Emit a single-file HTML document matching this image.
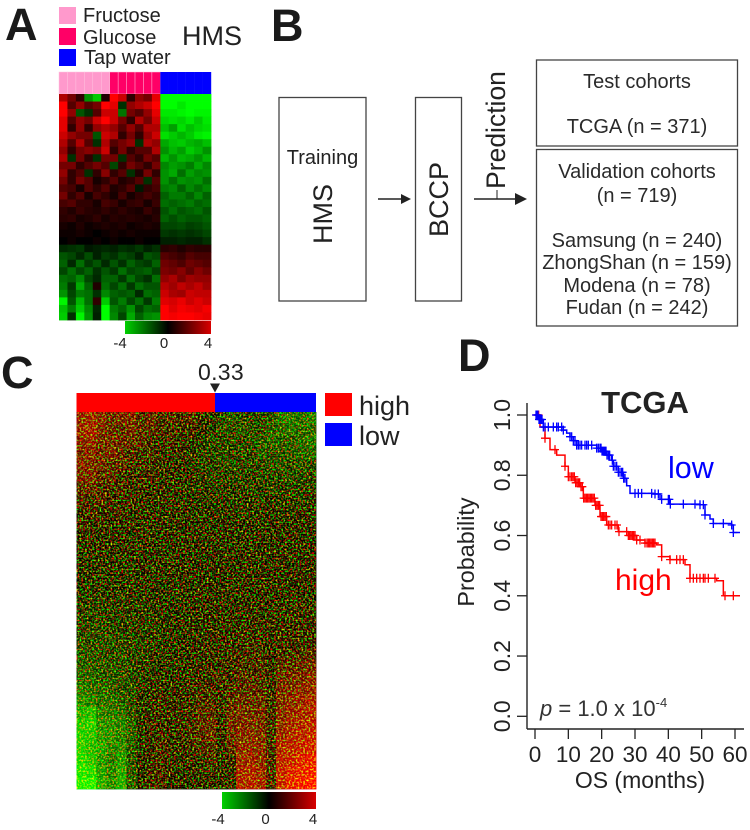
<!DOCTYPE html>
<html lang="en">
<head>
<meta charset="utf-8">
<title>HMS / BCCP figure</title>
<style>
html,body{margin:0;padding:0;background:#fff;width:750px;height:830px;overflow:hidden}
svg{display:block}
text{font-family:"Liberation Sans",sans-serif;fill:#222}
.panel{font-size:45px;font-weight:bold;fill:#1a1a1a}
.co{font-size:20px;text-anchor:middle;fill:#2a2a2a}
.bx{fill:#fff;stroke:#444;stroke-width:1.3}
</style>
</head>
<body>
<svg id="fig" xmlns="http://www.w3.org/2000/svg" width="750" height="830" viewBox="0 0 750 830">
<defs>
<filter id="grain" x="0" y="0" width="100%" height="100%" color-interpolation-filters="sRGB">
<feTurbulence type="fractalNoise" baseFrequency="0.55" numOctaves="1" seed="4"/>
<feColorMatrix type="matrix" values="3.2 0 0 0 -1.45  0 3.2 0 0 -1.45  0 0 0 0 0  0 0 0 0 1"/>
</filter>
<linearGradient id="cbar" x1="0" x2="1" y1="0" y2="0"></linearGradient>
</defs>

<text class="panel" x="5" y="40">A</text>
<text class="panel" x="271" y="41">B</text>
<text class="panel" x="1" y="388">C</text>
<text class="panel" x="458" y="371">D</text>

<g>
<rect x="59" y="7" width="17" height="17" fill="#ff99cc"/>
<rect x="59" y="28" width="17" height="17" fill="#ff0066"/>
<rect x="59" y="49" width="17" height="17" fill="#0000ff"/>
<text x="83" y="22" font-size="20">Fructose</text>
<text x="83" y="44" font-size="20">Glucose</text>
<text x="84" y="64" font-size="20">Tap water</text>
<text x="182" y="45" font-size="27" fill="#333">HMS</text>
</g>
<g id="annotA"></g>
<g id="heatA"></g>
<rect x="125" y="321" width="86" height="13" fill="url(#cbar)"/>
<g id="cbarA"></g>

<g>
<rect class="bx" x="279" y="97.5" width="87" height="203.5"/>
<text x="322.5" y="164" font-size="20" text-anchor="middle">Training</text>
<text transform="translate(332,214) rotate(-90)" font-size="27" text-anchor="middle">HMS</text>
<line x1="378" y1="199" x2="403" y2="199" stroke="#222" stroke-width="1.6"/>
<polygon points="401,194 411,199 401,204" fill="#222"/>
<rect class="bx" x="415.5" y="97.5" width="46" height="203.5"/>
<text transform="translate(448,199.5) rotate(-90)" font-size="27" text-anchor="middle">BCCP</text>
<text transform="translate(505,130) rotate(-90)" font-size="26.5" text-anchor="middle">Prediction</text>
<line x1="474" y1="199" x2="518" y2="199" stroke="#222" stroke-width="1.6"/>
<line x1="497" y1="190" x2="497" y2="199" stroke="#222" stroke-width="1"/>
<polygon points="515,193 527,199 515,205" fill="#222"/>
<rect class="bx" x="536.5" y="60" width="201" height="86"/>
<text class="co" x="637" y="88">Test cohorts</text>
<text class="co" x="637" y="133">TCGA (n = 371)</text>
<rect class="bx" x="536.5" y="149.5" width="201" height="176.5"/>
<text class="co" x="637" y="178">Validation cohorts</text>
<text class="co" x="637" y="202">(n = 719)</text>
<text class="co" x="637" y="247">Samsung (n = 240)</text>
<text class="co" x="637" y="269">ZhongShan (n = 159)</text>
<text class="co" x="637" y="292">Modena (n = 78)</text>
<text class="co" x="637" y="314">Fudan (n = 242)</text>
</g>

<text x="198" y="380" font-size="23" letter-spacing="0.3" fill="#333">0.33</text>
<polygon points="210,383.5 220,383.5 215,392.5" fill="#222"/>
<rect x="76.5" y="393" width="138.5" height="19" fill="#ff0000"/>
<rect x="215" y="393" width="101" height="19" fill="#0000ff"/>
<rect x="325" y="393" width="27" height="23" fill="#ff0000"/>
<rect x="325" y="423" width="27" height="23" fill="#0000ff"/>
<text x="359" y="415" font-size="27">high</text>
<text x="359" y="445" font-size="27">low</text>
<g id="heatC"></g>
<rect x="76.5" y="412" width="239.5" height="377" filter="url(#grain)" style="mix-blend-mode:screen"/>
<rect x="222" y="792" width="94" height="17" fill="url(#cbar)"/>
<g id="cbarC"></g>

<g id="km">
<text x="645" y="413" font-size="31" font-weight="bold" text-anchor="middle" fill="#111">TCGA</text>
<text transform="translate(474,552) rotate(-90)" font-size="23.4" text-anchor="middle">Probability</text>
<text x="640" y="788" font-size="23" text-anchor="middle">OS (months)</text>
<text x="668" y="478" font-size="30.5" style="fill:#0000ff">low</text>
<text x="615" y="590" font-size="30" style="fill:#ff0000">high</text>
<text x="540" y="716" font-size="22" style="fill:#333"><tspan font-style="italic">p</tspan> = 1.0 x 10<tspan font-size="13" dy="-9">-4</tspan></text>
</g>
</svg>

<script>
/* ---------- Panel A heatmap values ---------- */
var groupsA = ['fructose','fructose','fructose','fructose','fructose','fructose','glucose','glucose','glucose','glucose','glucose','glucose','tap','tap','tap','tap','tap','tap'];
var heatAValues = [
[2.5,1.5,0.5,-2,-3,0.3,4,3,0.5,2,1.5,3.5,-4,-4,-4,-4,-4,-4],
[4,1,2,1,1.5,4,3.5,-0.5,2,2.5,3,4,-4,-4,-3.6,-4,-4,-4],
[4,2,-1,-0.5,1,3,3,-1.5,1.5,1,2,3.5,-3.6,-3.6,-3.8,-4,-3.8,-3.8],
[3.5,1,2,1.5,3,4,3,1.5,0.5,2.5,1.5,3,-3.2,-3.4,-3.2,-3.6,-3,-3.6],
[3.5,0.5,2,0.5,2,2.5,2,1,2,1,2.5,2.5,-2.8,-2.2,-3.4,-2.8,-3.2,-3.4],
[3,2,1.5,1.5,-1,3,2.5,0.5,1.5,0.5,2,3,-3.4,-3,-2.6,-3,-3.6,-3.8],
[2.5,1,2.5,1,-0.5,2.5,1,1.5,2,-0.5,2.5,2,-2.4,-2.8,-3,-2.6,-2.4,-2.8],
[2,0.5,1.5,1.8,1.5,3,0.5,1.5,0.5,1,1,2.5,-2,-2.6,-2.2,-3,-2.6,-2],
[2.5,-0.5,1.5,0.5,-0.5,1.5,1.5,-0.5,1,0.5,1.5,1,-2.6,-2,-2.6,-2.4,-2,-2.6],
[1.5,1.5,0.5,1,1.5,1,-0.8,0.5,1.5,1,0.5,1.5,-1.8,-2.2,-2,-1.6,-2.4,-1.8],
[2,0.5,1,-0.5,0.5,1.8,0.5,1,-0.5,0.3,1.5,0.5,-2,-2.4,-1.4,-2.2,-1.8,-2],
[1.5,0.5,1.5,1,0.2,0.5,1,0.3,0.5,1,-0.5,1,-2,-1.4,-2,-1.8,-2,-1.4],
[1,0.8,0.2,1,0.5,1,0.3,0.5,1,-0.2,0.5,0.8,-1.6,-1.8,-1.2,-1.8,-1.4,-1.8],
[1.5,0.5,1,0.2,0.8,0.5,0.2,0.8,0.2,0.5,0.8,0.5,-1.2,-1.6,-1.6,-1.2,-1.8,-1.2],
[0.8,1,0.5,0.5,0.2,0.8,0.6,0.2,0.5,0.6,0.2,0.6,-1.4,-1.2,-1.4,-1.6,-1.2,-1.4],
[0.5,0.3,0.6,0.4,0.3,0.5,0.3,0.5,0.3,0.2,0.6,0.3,-1,-1.4,-1,-1.2,-1.4,-1],
[0.4,0.5,0.2,0.3,0.5,0.2,0.4,0.3,0.4,0.3,0.2,0.4,-1.2,-0.9,-1.2,-1,-1,-1.2],
[0.2,0.1,0.3,0.1,0.2,0.3,0.2,0.3,0.1,0.2,0.3,0.2,-0.8,-0.8,-0.9,-0.7,-0.8,-1],
[0.1,0.1,0.2,0.1,0,0.1,0.2,0.1,0.2,0.1,0.1,0.1,-0.6,-0.5,-0.6,-0.5,-0.6,-0.8],
[0,0.1,0,0,0.1,0,0.1,0,0,0.1,0,0,-0.3,-0.3,-0.4,-0.3,-0.3,-0.5],
[-0.4,-0.5,-0.6,-0.2,-0.3,-0.4,-0.3,-0.5,-0.4,-0.6,-0.3,-0.5,0.4,0.5,0.3,0.5,0.4,0.4],
[-1,-0.8,-0.4,-0.9,-0.3,-0.7,-0.5,-0.9,-0.7,-0.3,-1,-0.8,1,0.8,0.6,1,0.8,0.8],
[-1.2,-0.4,-1.4,-0.6,-1,-0.4,-1,-0.5,-1.2,-0.8,-0.6,-1.2,1.4,1.2,0.9,1.4,1.2,1],
[-0.8,-1.4,-0.8,-1.2,-0.5,-1,-0.6,-1.4,-0.8,-1,-1.2,-0.7,1.6,1.4,1.8,1.2,1.8,1.4],
[-1.4,-1.2,-1.8,-0.8,-0.4,-1.2,-1.2,-0.6,-1.4,-0.8,-0.5,-1.4,2,2.4,1.6,2.2,2,2],
[-1.6,-0.6,-2.4,-1.2,0.3,-1.4,-0.8,-1.4,-0.6,-1.4,-1,-1,2.6,2.2,2.8,2.4,2.8,2.2],
[-2,-0.8,-1.6,-1.4,-0.5,-1.8,-1.2,-1,-1.2,-0.4,-1.4,-1.2,3,2.4,2.2,3,2.8,2.8],
[-3.8,-1,-2.6,-1.4,0.5,-3,-1,-1.6,-0.8,-1.4,-0.6,-1.6,3.4,3.2,3.6,3,3.4,3],
[-2.8,-1.6,-3,-1.8,-0.4,-4,-1.6,-1.2,-2,-0.8,-1.4,-1.2,4,3.4,3.8,3.6,3.4,3.8],
[-3,-0.5,-3.8,-2,-0.3,-4,-1.8,-0.8,-2.4,-1.2,-1.8,-2,4,3.8,4,4,3.8,3.6]
];

/* ---------- Panel C heatmap values (estimated coarse regional averages) ---------- */
var heatCValues = [
[2,2.2,1.8,1.2,1.5,1.6,0.8,1.2,0.5,0.8,0.6,0.8,0.3,-0.2,-0.5,-0.9,-0.6,-0.5,-0.6,-0.8,-1.4,-1.6,-1.4,-1.6],
[2.2,2.4,1.6,1.2,1,1.4,0.9,1,0.6,0.5,0.4,0.5,0.1,-0.3,-0.7,-0.5,-0.9,-0.6,-0.5,-1,-1.2,-1.4,-1.2,-1.3],
[1.8,2,1.4,1.4,1.2,1,1,0.4,0.3,0.6,0.2,0.2,-0.3,-0.6,-0.4,-0.6,-0.5,-0.8,-0.9,-1.1,-1,-0.9,-1.3,-1.5],
[1.6,1.8,1.2,1.6,1,0.7,0.5,0.6,0.2,0.1,0.3,-0.2,-0.4,-0.5,-0.6,-0.4,-0.7,-0.4,-1,-0.7,-0.8,-1,-1,-1.2],
[1.8,1.5,1.4,0.9,1,0.5,0.4,0.3,0.4,0,0.1,-0.2,-0.5,-0.3,-0.5,-0.7,-0.4,-0.6,-0.5,-0.8,-0.9,-0.6,-0.8,-0.7],
[1.5,1.6,0.9,1,0.4,0.3,0.3,0.5,0.1,0.2,-0.1,0.1,-0.2,-0.5,-0.3,-0.4,-0.5,-0.2,-0.6,-0.4,-0.5,-0.7,-0.6,-0.4],
[1,1.1,0.6,0.5,0.7,0.2,0.4,0.1,0.2,-0.1,0.1,-0.3,-0.2,-0.1,-0.4,-0.2,-0.3,-0.5,-0.3,-0.6,-0.2,-0.4,-0.3,-0.5],
[0.8,0.4,0.9,0.3,0.2,0.5,0.1,0,0.3,0.1,-0.2,0,-0.1,-0.3,-0.1,-0.4,-0.2,-0.1,-0.4,0,-0.3,-0.2,-0.4,-0.1],
[0.3,0.6,0.2,0.4,0.5,0,0.2,0.2,-0.1,0.1,0.2,-0.1,-0.2,0,-0.2,0,-0.3,-0.2,0.1,-0.2,-0.1,-0.3,0.1,-0.2],
[0.5,0.1,0.4,0,0.2,0.3,-0.1,0.1,0.2,-0.2,0,0.1,0,-0.2,0.1,-0.1,0,0.1,-0.2,0.1,-0.2,0,-0.1,0.1],
[0.2,0.3,-0.1,0.2,0,-0.1,0.2,-0.2,0,0.1,-0.1,0.2,-0.1,0.1,0,0.1,-0.1,0,0.1,-0.1,0.1,0.2,0,-0.1],
[-0.1,0.2,0.1,-0.2,0.1,0.2,-0.2,0,-0.1,0,0.2,-0.1,0.1,0,0.1,-0.2,0.1,-0.1,0,0.2,-0.1,0,0.1,0],
[0,-0.2,0.1,0,-0.3,0,0.1,-0.1,0.1,-0.2,0,0,-0.1,0.1,-0.1,0.1,0,0.2,-0.1,0,0.2,-0.1,0.1,0.1],
[-0.2,0,-0.3,0.1,-0.1,-0.2,0,-0.2,-0.1,0.1,-0.1,0.1,0,-0.1,0.2,0,0.1,-0.1,0.1,0.1,0,0.1,0.2,-0.1],
[-0.1,-0.3,-0.1,-0.2,0,-0.3,-0.1,0,-0.2,-0.1,0.1,-0.1,0.1,0,0,0.1,-0.1,0.1,0.2,-0.1,0.1,0,0,0.2],
[-0.4,-0.2,-0.3,-0.1,-0.4,-0.1,-0.2,-0.1,0,-0.2,-0.1,0,0.1,0.1,-0.1,0.1,0.1,0,0,0.2,0.1,0.2,0.1,0],
[-0.3,-0.5,-0.4,-0.4,-0.2,-0.2,-0.3,-0.2,-0.1,0,-0.2,0.1,-0.1,0.1,0.2,0,0.2,0.1,0.2,0,0.2,0.1,0.3,0.2],
[-0.6,-0.4,-0.5,-0.3,-0.5,-0.4,-0.1,-0.3,-0.2,-0.1,0,-0.1,0.1,0,0.1,0.3,0.1,0.2,0.1,0.3,0.1,0.3,0.2,0.3],
[-0.5,-0.7,-0.6,-0.5,-0.3,-0.4,-0.3,-0.2,-0.3,-0.1,-0.1,0.1,0,0.2,0.2,0.1,0.3,0.2,0.3,0.2,0.3,0.2,0.4,0.3],
[-0.8,-0.6,-0.7,-0.8,-0.5,-0.5,-0.4,-0.3,-0.1,-0.2,0,-0.1,0.2,0.1,0.3,0.2,0.3,0.4,0.2,0.1,0.4,0.3,0.3,0.5],
[-0.9,-0.8,-0.6,-0.6,-0.7,-0.4,-0.5,-0.2,-0.3,0,-0.1,0.1,0.1,0.3,0.2,0.4,0.3,0.5,0.5,0.1,0.5,0.5,0.7,0.9],
[-1,-0.9,-0.9,-0.7,-0.6,-0.6,-0.3,-0.3,-0.1,-0.2,0.1,0.1,0.3,0.2,0.3,0.3,0.6,0.5,0.6,0.2,0.9,1,1.1,1.3],
[-1.1,-1.2,-0.8,-0.9,-0.8,-0.5,-0.4,-0.2,-0.2,0,0,0.2,0.2,0.4,0.5,0.2,0.8,0.7,0.7,0.2,1.2,1.4,1.5,1.8],
[-1.6,-1.3,-1.2,-1,-0.7,-0.7,-0.2,0.2,0.1,0.2,0.1,0.3,0.5,0.5,0.3,0.7,0.9,1,0.9,0.3,1.5,1.6,1.9,2],
[-2,-1.8,-1.3,-1.4,-1,-0.6,-0.1,0.1,0.4,0.1,0.3,0.2,0.7,0.6,0.2,0.9,1.2,1.1,1.2,0.4,1.7,1.9,2.2,2.5],
[-2.6,-2.8,-1.8,-1.6,-1.4,-0.8,-0.2,0.3,0.2,0.4,0.2,0.5,0.8,1,0.2,1.2,1.5,1.3,1.4,0.5,1.8,2.2,2.4,2.6],
[-3,-3.2,-2,-1.9,-1.8,-1,-0.1,0.4,0.3,0.1,0.4,0.5,1,1.1,0.2,1.4,1.6,1.6,1.5,0.5,2,2.4,2.6,2.8],
[-3.2,-3,-2.2,-2,-1.6,-1.1,-0.2,0.3,0.5,0.2,0.3,0.6,0.9,1.2,0.2,1.2,1.8,1.8,1.6,0.6,2.2,2.6,2.8,3],
[-3.2,-2.8,-2.4,-1.8,-2,-0.9,-0.1,0.3,0.6,0.3,0.2,0.4,0.7,0.8,0.1,1,2,2,1.8,0.6,2.6,2.8,3,3.2],
[-3.4,-3,-2.2,-1.6,-2.2,-0.8,0,0.4,0.5,0.3,0,0.2,0.3,0.6,0.1,0.4,2.2,2.2,1.9,0.6,2.8,3,3.4,3.6],
[-3.6,-3.4,-2.4,-1.8,-2.4,-0.9,-0.1,0.5,0.6,0.2,-0.1,0.1,0.2,0.3,0.1,0.3,2.4,2.6,2.2,0.7,3,3.4,3.6,3.8],
[-3.8,-3.8,-2.6,-2,-2.6,-1,0,0.5,0.6,0.1,0,0,0.2,0.2,0.1,0.2,2.6,2.6,2.4,0.7,3,3.6,3.8,4]
];

/* ---------- Colorbar ---------- */
var colorbarTicks = [-4, 0, 4];

/* ---------- Panel D survival data ---------- */
var xTickValues = [0, 10, 20, 30, 40, 50, 60];
var yTickValues = [0.0, 0.2, 0.4, 0.6, 0.8, 1.0];
var lowTimes = [0, 1, 2.5, 8.5, 9.5, 10.5, 11.5, 12.5, 18.5, 20, 21.5, 23, 23.5, 25, 26.5, 27.5, 28.5, 35.5, 37.5, 40.5, 49.5, 51, 52.5, 53.5, 59, 59.5, 61.5];
var lowSurv = [1.0, 0.985, 0.96, 0.95, 0.94, 0.928, 0.915, 0.90, 0.89, 0.88, 0.867, 0.85, 0.83, 0.81, 0.79, 0.765, 0.74, 0.738, 0.72, 0.704, 0.702, 0.668, 0.655, 0.64, 0.635, 0.61, 0.61];
var highTimes = [0, 1.5, 3, 4.5, 6.5, 9, 10, 12, 13.5, 14.5, 18, 19.5, 21.5, 25, 28, 30.5, 33, 36.5, 38, 40.5, 45, 46.5, 54.5, 56.5, 61.5];
var highSurv = [1.0, 0.96, 0.923, 0.885, 0.867, 0.83, 0.795, 0.775, 0.762, 0.724, 0.70, 0.663, 0.635, 0.613, 0.60, 0.585, 0.575, 0.569, 0.53, 0.52, 0.503, 0.458, 0.45, 0.40, 0.40];
var lowCensor = [0.3,0.6,0.9,1.2,1.5,1.8,2.1,2.5,3,4,5.5,6.5,7,8,8.5,10.5,11,11.5,12,12.5,13,13.5,14,15,15.5,16,17,18.5,19,19.5,19.8,20.1,20.4,20.7,21,21.3,21.6,22,22.4,23.2,23.5,24,24.5,25,25.5,26,26.3,26.6,27,30,31,32,35,36,37,38,40,40.3,40.6,44.5,48,49.5,50.5,51,53.5,56.5,59,59.5];
var highCensor = [0.4,0.8,1.1,3,6,9,10,10.5,11,11.4,11.8,12.2,12.6,13,13.4,13.8,14.2,14.6,15,15.4,15.8,16.2,16.6,17,17.4,17.8,18.2,18.6,19,19.4,19.8,20.2,20.6,21,21.4,22,22.5,23,24,24.6,25.2,27.5,28,28.4,28.8,29.2,29.6,30,30.5,31.5,33,33.6,34,34.4,34.8,35.2,35.6,36,38,40.5,42.5,43.5,44.5,46.5,47.5,48.5,49.5,50.5,51,52,54,57,59.5];

var SVG_NS = 'http://www.w3.org/2000/svg';
function mk(tag, parent, attrs) {
  var el = document.createElementNS(SVG_NS, tag);
  for (var k in attrs) el.setAttribute(k, attrs[k]);
  parent.appendChild(el);
  return el;
}
function heatColor(v, gamma) {
  var c = Math.max(-4, Math.min(4, v));
  var m = Math.round(Math.pow(Math.abs(c) / 4, gamma) * 255);
  return c >= 0 ? 'rgb(' + m + ',0,0)' : 'rgb(0,' + m + ',0)';
}
function drawHeat(parent, values, x0, y0, w, h, name, gamma) {
  var nr = values.length, nc = values[0].length;
  var cw = w / nc, ch = h / nr;
  values.forEach(function (row, r) {
    row.forEach(function (v, c) {
      var cell = mk('rect', parent, {
        x: x0 + c * cw, y: y0 + r * ch, width: cw + 0.4, height: ch + 0.4, fill: heatColor(v, gamma)
      });
      
      
    });
  });
}

/* colorbar gradient */
var grad = document.getElementById('cbar');
colorbarTicks.forEach(function (t) {
  var st = mk('stop', grad, {
    offset: ((t - colorbarTicks[0]) / (colorbarTicks[2] - colorbarTicks[0])),
    'stop-color': t === 0 ? '#000000' : (t < 0 ? '#00d000' : '#d80000')
  });
  
  
});

/* Panel A */
var annotA = document.getElementById('annotA');
var groupColor = { fructose: '#ff99cc', glucose: '#ff0066', tap: '#0000ff' };
var colWA = 152 / groupsA.length;
groupsA.forEach(function (g, i) {
  var a = mk('rect', annotA, {
    x: 59 + i * colWA, y: 72, width: colWA + 0.2, height: 22, fill: groupColor[g],
    stroke: g === 'tap' ? 'none' : '#ffc6e0', 'stroke-width': g === 'tap' ? 0 : 0.5
  });
  
  
});
drawHeat(document.getElementById('heatA'), heatAValues, 59, 94, 152, 226, 'heatmap-a-cell', 0.8);

function cbarLabels(parent, x0, x1, base, name) {
  colorbarTicks.forEach(function (t) {
    var px = x0 + (t - colorbarTicks[0]) / (colorbarTicks[2] - colorbarTicks[0]) * (x1 - x0);
    var lab = mk('text', parent, { x: px, y: base, 'font-size': 15, 'text-anchor': 'middle' });
    lab.textContent = String(t);
    
    
  });
}
cbarLabels(document.getElementById('cbarA'), 120, 208, 348, 'colorbar-a-tick-label');

/* Panel C */
drawHeat(document.getElementById('heatC'), heatCValues, 76.5, 412, 239.5, 377, 'heatmap-c-cell', 1.15);
cbarLabels(document.getElementById('cbarC'), 218, 313, 824, 'colorbar-c-tick-label');

/* Panel D axis functions */
function xScale(t) { return 535 + t * (735 - 535) / 60; }
function yScale(p) { return 716.3 - p * (716.3 - 415); }
var km = document.getElementById('km');

var xAxisLine = mk('line', km, { x1: 527, y1: 729, x2: 744, y2: 729, stroke: '#222', 'stroke-width': 1.4 });


var yAxisLine = mk('line', km, { x1: 527, y1: 403, x2: 527, y2: 729, stroke: '#222', 'stroke-width': 1.4 });



xTickValues.forEach(function (t) {
  var tick = mk('line', km, { x1: xScale(t), y1: 729, x2: xScale(t), y2: 739, stroke: '#222', 'stroke-width': 1.3 });
  
  
  var lab = mk('text', km, { x: xScale(t), y: 762, 'font-size': 22.5, 'text-anchor': 'middle' });
  lab.textContent = String(t);
  
  
});
yTickValues.forEach(function (p) {
  var tick = mk('line', km, { x1: 517, y1: yScale(p), x2: 527, y2: yScale(p), stroke: '#222', 'stroke-width': 1.3 });
  
  
  var lab = mk('text', km, {
    transform: 'translate(510,' + yScale(p) + ') rotate(-90)', 'font-size': 23, 'text-anchor': 'middle'
  });
  lab.textContent = p.toFixed(1);
  
  
});

function stepAt(times, surv, t) {
  var s = surv[0];
  for (var i = 0; i < times.length; i++) { if (times[i] <= t) s = surv[i]; }
  return s;
}
function drawSeries(times, surv, censor, color, name) {
  var d = 'M' + xScale(times[0]) + ' ' + yScale(surv[0]);
  for (var i = 1; i < times.length; i++) {
    d += 'H' + xScale(times[i]) + 'V' + yScale(surv[i]);
  }
  var line = mk('path', km, { d: d, fill: 'none', stroke: color, 'stroke-width': 1.5 });
  
  
  censor.forEach(function (t) {
    var px = xScale(t), py = yScale(stepAt(times, surv, t));
    var mark = mk('path', km, {
      d: 'M' + (px - 4) + ' ' + py + 'H' + (px + 4) + 'M' + px + ' ' + (py - 4.5) + 'V' + (py + 4.5),
      fill: 'none', stroke: color, 'stroke-width': 1.3
    });
    
    
  });
}
drawSeries(highTimes, highSurv, highCensor, '#ff0000', 'high');
drawSeries(lowTimes, lowSurv, lowCensor, '#0000ff', 'low');
</script>
</body>
</html>
